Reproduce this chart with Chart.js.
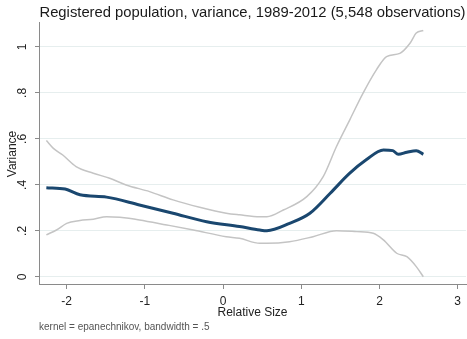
<!DOCTYPE html>
<html>
<head>
<meta charset="utf-8">
<script src="https://cdn.jsdelivr.net/npm/chart.js@4/dist/chart.umd.min.js"></script>
<style>
  html, body { margin: 0; padding: 0; background: #ffffff; }
  #wrap { width: 467px; height: 339px; }
</style>
</head>
<body>
<div id="wrap"><canvas id="c" width="467" height="339"></canvas></div>
<script>
// Kernel-weighted local fit of variance on relative size, with confidence band
const meanX = [-2.26, -2.02, -1.83, -1.49, -1.07, -0.64, -0.21, 0.21, 0.47, 0.56, 0.85, 1.11, 1.37, 1.62, 1.83, 2.05, 2.17, 2.24, 2.35, 2.47, 2.56];
const meanY = [0.388, 0.382, 0.357, 0.347, 0.313, 0.277, 0.240, 0.219, 0.204, 0.201, 0.233, 0.277, 0.364, 0.451, 0.509, 0.552, 0.549, 0.533, 0.542, 0.549, 0.533];

const upperX = [-2.26, -2.17, -2.05, -1.88, -1.66, -1.45, -1.24, -0.94, -0.64, -0.30, 0.04, 0.21, 0.47, 0.56, 0.77, 1.07, 1.28, 1.45, 1.62, 1.79, 1.96, 2.09, 2.26, 2.39, 2.47, 2.56];
const upperY = [0.593, 0.559, 0.530, 0.480, 0.451, 0.429, 0.400, 0.371, 0.335, 0.303, 0.277, 0.270, 0.262, 0.262, 0.291, 0.349, 0.436, 0.567, 0.683, 0.799, 0.900, 0.958, 0.972, 1.016, 1.060, 1.071];

const lowerX = [-2.26, -2.13, -2.00, -1.83, -1.66, -1.49, -1.32, -1.07, -0.72, -0.38, 0.04, 0.21, 0.47, 0.56, 0.85, 1.15, 1.45, 1.71, 1.92, 2.05, 2.22, 2.35, 2.47, 2.56];
const lowerY = [0.183, 0.204, 0.233, 0.245, 0.251, 0.262, 0.259, 0.248, 0.226, 0.204, 0.175, 0.168, 0.146, 0.146, 0.153, 0.175, 0.201, 0.197, 0.190, 0.161, 0.103, 0.088, 0.045, 0.001];

const xTickValues = [-2, -1, 0, 1, 2, 3];
const yTickValues = [0, 0.2, 0.4, 0.6, 0.8, 1];
const yTickLabels = ['0', '.2', '.4', '.6', '.8', '1'];

const titleText = 'Registered population, variance, 1989-2012 (5,548 observations)';
const noteText = 'kernel = epanechnikov, bandwidth = .5';
const xTitle = 'Relative Size';
const yTitle = 'Variance';

const FONT = 'Arial, "Liberation Sans", Helvetica, sans-serif';

function pairs(xs, ys) { return xs.map((x, i) => ({ x: x, y: ys[i] })); }

// Stata-style y labels: rotated, reading upward
const rotatedYLabels = {
  id: 'rotatedYLabels',
  afterDraw(chart) {
    const s = chart.scales.y;
    const ctx = chart.ctx;
    ctx.save();
    ctx.font = '12px ' + FONT;
    ctx.fillStyle = '#222';
    ctx.textAlign = 'center';
    ctx.textBaseline = 'middle';
    yTickValues.forEach((v, i) => {
      const py = s.getPixelForValue(v);
      ctx.save();
      ctx.translate(s.right - 16, py);
      ctx.rotate(-Math.PI / 2);
      ctx.fillText(yTickLabels[i], 0, 0);
      ctx.restore();
    });
    ctx.restore();
  }
};

new Chart(document.getElementById('c'), {
  type: 'line',
  data: {
    datasets: [
      { label: 'upper', data: pairs(upperX, upperY), borderColor: '#c4c4c4', borderWidth: 1.5, pointRadius: 0, tension: 0.3, cubicInterpolationMode: 'monotone', order: 2 },
      { label: 'lower', data: pairs(lowerX, lowerY), borderColor: '#c4c4c4', borderWidth: 1.5, pointRadius: 0, tension: 0.3, cubicInterpolationMode: 'monotone', order: 2 },
      { label: 'fit', data: pairs(meanX, meanY), borderColor: '#1a476f', borderWidth: 3, pointRadius: 0, tension: 0.3, cubicInterpolationMode: 'monotone', order: 1 }
    ]
  },
  options: {
    responsive: false,
    devicePixelRatio: 1,
    animation: false,
    layout: { padding: { left: 0, right: 1, top: 0, bottom: 0 } },
    plugins: {
      legend: { display: false },
      tooltip: { enabled: false },
      title: {
        display: true,
        text: titleText,
        fullSize: false,
        align: 'center',
        color: '#1a1a1a',
        font: { family: FONT, size: 14.8, weight: 'normal' },
        padding: { top: 4.1, bottom: 1.1 }
      },
      subtitle: {
        display: true,
        text: noteText,
        position: 'bottom',
        fullSize: false,
        align: 'start',
        color: '#555',
        font: { family: FONT, size: 10, weight: 'normal' },
        padding: { top: 1.5, bottom: 6 }
      }
    },
    scales: {
      x: {
        type: 'linear',
        min: -2.354,
        max: 3.106,
        afterBuildTicks(scale) { scale.ticks = xTickValues.map(v => ({ value: v })); },
        afterFit(scale) { scale.height = 34.5; },
        ticks: {
          includeBounds: false,
          color: '#222',
          font: { family: FONT, size: 12 },
          padding: 5.5,
          maxRotation: 0,
          callback: v => String(v)
        },
        grid: { drawOnChartArea: false, drawTicks: true, tickLength: 4, tickColor: '#8a8a8a' },
        border: { display: true, color: '#8a8a8a', width: 1 },
        title: {
          display: true,
          text: xTitle,
          color: '#222',
          font: { family: FONT, size: 12 },
          padding: { top: 0, bottom: 0 }
        }
      },
      y: {
        type: 'linear',
        min: -0.035,
        max: 1.104,
        afterBuildTicks(scale) { scale.ticks = yTickValues.map(v => ({ value: v })); },
        afterFit(scale) { scale.width = 39; },
        ticks: { display: false, includeBounds: false },
        grid: { drawOnChartArea: true, color: '#e6eeee', lineWidth: 1, drawTicks: true, tickLength: 4, tickColor: '#8a8a8a' },
        border: { display: true, color: '#8a8a8a', width: 1 },
        title: {
          display: true,
          text: yTitle,
          color: '#222',
          font: { family: FONT, size: 12 },
          padding: { top: 5.5, bottom: 0 }
        }
      }
    }
  },
  plugins: [rotatedYLabels]
});
</script>
</body>
</html>
